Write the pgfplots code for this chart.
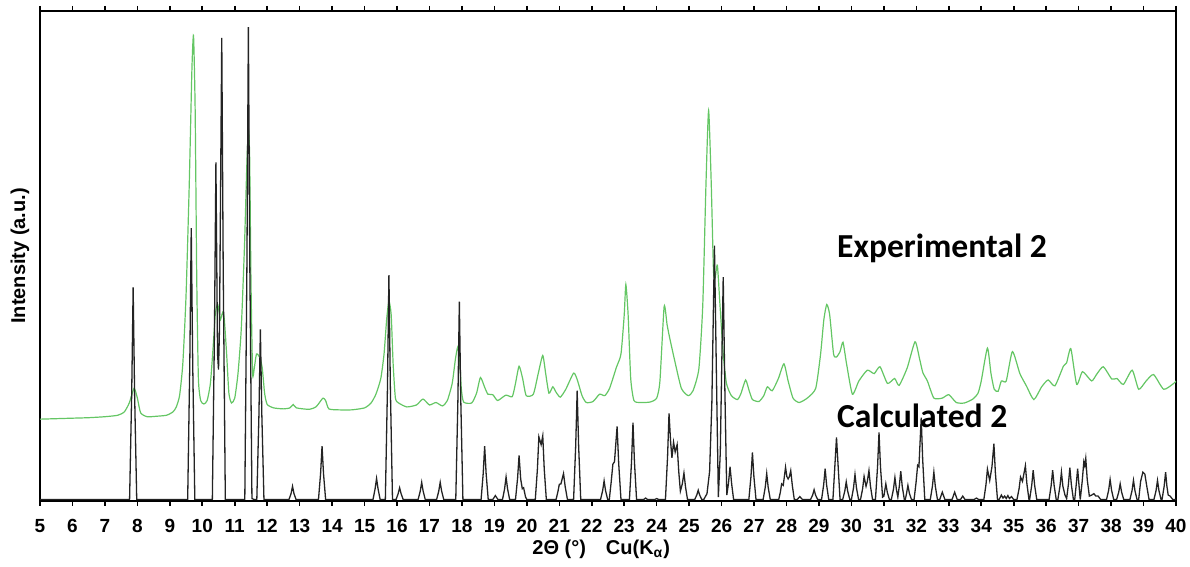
\documentclass[border=0pt]{standalone}
\usepackage{pgfplots}
\pgfplotsset{compat=1.18}
\usepackage{fontspec}
\setmainfont{Liberation Sans}
\newfontfamily\calibri{Carlito}
\definecolor{expgreen}{RGB}{100,198,100}
\definecolor{calcblack}{RGB}{35,35,35}
\begin{document}
\begin{tikzpicture}
\path[use as bounding box] (0,0) rectangle (595pt,283.5pt);
\begin{axis}[
  at={(20pt,33pt)}, anchor=south west,
  scale only axis, width=568pt, height=245pt,
  xmin=5, xmax=40, ymin=0, ymax=1000,
  xtick={5,6,...,40}, ytick=\empty,
  tick align=outside, major tick length=2.5pt,
  axis line style={line width=1pt},
  every tick/.style={black,line width=0.8pt},
  /pgf/number format/assume math mode=true,
  xticklabel style={font=\bfseries\fontsize{9.5}{11}\selectfont, yshift=-3.0pt},
  xlabel={\bfseries 2Θ (°)\quad Cu(K\textsubscript{α})},
  xlabel style={font=\fontsize{10}{12}\selectfont, at={(axis description cs:0.494,0)}, anchor=center, yshift=-24pt},
  ylabel={\bfseries Intensity (a.u.)},
  ylabel style={font=\fontsize{10}{12}\selectfont, at={(axis description cs:-0.0176,0.5)}, anchor=center},
  clip=true,
]
% Experimental 2
\addplot[expgreen, line width=0.6pt, smooth, tension=0.35] coordinates {
(5.0,167)(5.5,168)(6.0,169)(6.5,170)(7.0,172)(7.4,175)(7.6,182)(7.75,200)(7.9,230)(8.0,210)(8.1,180)(8.3,172)(8.6,173)(8.9,175)(9.1,182)(9.2,192)(9.3,215)(9.4,280)(9.5,420)(9.6,650)(9.68,880)(9.73,950)(9.78,800)(9.83,450)(9.88,250)(9.95,205)(10.05,198)(10.15,205)(10.25,240)(10.33,310)(10.4,380)(10.47,402)(10.52,385)(10.56,370)(10.63,385)(10.68,370)(10.75,300)(10.82,220)(10.9,200)(11.0,210)(11.1,260)(11.2,350)(11.3,520)(11.37,680)(11.42,760)(11.46,700)(11.5,450)(11.55,260)(11.6,270)(11.67,300)(11.78,292)(11.85,270)(11.92,220)(12.0,197)(12.2,190)(12.5,188)(12.7,190)(12.8,197)(12.9,190)(13.3,187)(13.5,192)(13.6,200)(13.72,210)(13.8,205)(13.9,188)(14.2,186)(14.6,186)(15.0,190)(15.2,200)(15.35,218)(15.5,250)(15.6,300)(15.68,370)(15.75,408)(15.82,380)(15.88,280)(15.95,210)(16.05,200)(16.3,192)(16.6,196)(16.8,208)(17.0,196)(17.2,201)(17.4,194)(17.55,205)(17.7,240)(17.8,290)(17.87,314)(17.93,290)(17.98,230)(18.05,202)(18.3,200)(18.45,220)(18.57,252)(18.7,232)(18.8,218)(18.95,217)(19.1,205)(19.35,216)(19.55,213)(19.65,240)(19.76,275)(19.87,250)(19.98,215)(20.2,218)(20.35,260)(20.49,297)(20.58,260)(20.68,220)(20.8,233)(20.9,222)(21.03,212)(21.2,228)(21.44,261)(21.55,248)(21.7,215)(21.83,201)(22.04,203)(22.24,218)(22.4,215)(22.55,230)(22.76,273)(22.9,300)(23.0,380)(23.05,442)(23.12,380)(23.2,250)(23.3,205)(23.5,201)(23.8,202)(24.0,210)(24.1,245)(24.23,397)(24.32,360)(24.4,333)(24.56,285)(24.76,230)(24.97,215)(25.12,225)(25.3,270)(25.42,400)(25.52,650)(25.6,797)(25.68,650)(25.75,470)(25.8,455)(25.87,481)(25.95,400)(26.05,300)(26.15,240)(26.3,215)(26.49,207)(26.6,220)(26.74,247)(26.85,225)(26.95,207)(27.15,203)(27.3,215)(27.41,233)(27.56,225)(27.75,250)(27.92,280)(28.05,245)(28.2,210)(28.39,201)(28.64,210)(28.9,230)(29.05,300)(29.15,370)(29.24,401)(29.33,380)(29.45,300)(29.54,294)(29.65,305)(29.74,324)(29.85,280)(30.03,218)(30.23,245)(30.49,267)(30.7,260)(30.88,274)(31.11,240)(31.33,250)(31.47,236)(31.72,272)(31.96,325)(32.1,290)(32.2,262)(32.34,245)(32.54,210)(32.8,210)(33.0,217)(33.23,201)(33.48,200)(33.74,208)(33.9,220)(34.0,245)(34.19,312)(34.3,260)(34.4,228)(34.52,224)(34.62,245)(34.77,245)(34.96,305)(35.19,260)(35.39,235)(35.62,207)(35.86,233)(36.06,247)(36.27,235)(36.53,275)(36.63,282)(36.76,311)(36.94,238)(37.12,264)(37.4,245)(37.56,259)(37.76,274)(38.02,249)(38.18,250)(38.38,238)(38.65,267)(38.85,228)(39.08,245)(39.31,258)(39.62,228)(39.93,240)(40.0,245)
};
% Calculated 2
\addplot[calcblack, line width=0.65pt] coordinates {
(5,3)(7.76,3)(7.825,218)(7.87,436)(7.915,218)(7.98,3)
(9.55,3)(9.615,280)(9.66,557)(9.705,280)(9.77,3)
(10.31,3)(10.375,345)(10.42,691)(10.47,300)(10.5,268)(10.53,350)(10.60,945)(10.645,470)(10.71,3)
(11.31,3)(11.375,480)(11.42,967)(11.465,480)(11.53,5)(11.6,3)
(11.68,3)(11.745,175)(11.79,350)(11.835,175)(11.9,3)
(12.67,3)(12.735,15)(12.78,30)(12.825,15)(12.89,3)
(13.58,3)(13.645,56)(13.69,112)(13.735,56)(13.8,3)
(15.26,3)(15.325,25)(15.37,46)(15.415,25)(15.48,3)
(15.64,3)(15.705,230)(15.75,461)(15.795,230)(15.86,3)
(15.97,3)(16.035,15)(16.08,27)(16.125,15)(16.19,3)
(16.65,3)(16.715,20)(16.76,38)(16.805,20)(16.87,3)
(17.22,3)(17.285,20)(17.33,38)(17.375,20)(17.44,3)
(17.81,3)(17.875,204)(17.92,407)(17.965,204)(18.03,3)
(18.59,3)(18.655,56)(18.70,112)(18.745,56)(18.81,3)
(18.95,3)(19.03,11)(19.11,3)
(19.25,3)(19.315,25)(19.36,49)(19.405,25)(19.47,3)
(19.65,3)(19.715,47)(19.76,93)(19.81,45)(19.86,25)(19.9,27)(19.96,8)(20.0,3)
(20.26,3)(20.325,65)(20.37,131)(20.44,115)(20.49,133)(20.535,66)(20.6,3)
(20.9,3)(20.96,20)(21.0,34)(21.05,35)(21.13,56)(21.18,30)(21.25,3)
(21.44,3)(21.505,113)(21.55,225)(21.595,113)(21.66,3)
(22.27,3)(22.335,21)(22.38,41)(22.425,21)(22.49,3)
(22.54,3)(22.6,40)(22.65,75)(22.7,80)(22.78,152)(22.83,76)(22.9,3)
(23.16,3)(23.225,80)(23.27,160)(23.315,80)(23.38,3)
(23.6,3)(23.66,6)(23.72,3)(23.94,3)(24.0,5)(24.06,3)
(24.27,3)(24.335,90)(24.38,179)(24.43,120)(24.47,88)(24.52,120)(24.57,100)(24.63,115)(24.68,60)(24.73,20)(24.79,35)(24.84,57)(24.89,28)(24.95,3)
(25.17,3)(25.235,12)(25.28,22)(25.325,12)(25.39,3)
(25.45,3)(25.55,15)(25.63,60)(25.7,200)(25.78,521)(25.84,260)(25.9,8)(25.96,100)(26.05,457)(26.1,230)(26.16,12)(26.21,35)(26.26,70)(26.31,35)(26.37,3)
(26.84,3)(26.905,50)(26.95,99)(26.995,50)(27.06,3)
(27.28,3)(27.345,28)(27.39,56)(27.435,28)(27.5,3)
(27.76,3)(27.81,18)(27.85,35)(27.9,32)(27.97,69)(28.01,50)(28.05,45)(28.09,50)(28.13,62)(28.18,31)(28.24,3)
(28.33,3)(28.41,9)(28.49,3)
(28.74,3)(28.805,12)(28.85,23)(28.895,12)(28.96,3)
(29.08,3)(29.145,33)(29.19,66)(29.235,33)(29.3,3)
(29.43,3)(29.48,60)(29.54,130)(29.6,60)(29.65,3)
(29.73,3)(29.795,20)(29.84,39)(29.885,20)(29.95,3)
(30.0,3)(30.065,27)(30.11,54)(30.155,27)(30.22,3)
(30.28,3)(30.345,25)(30.39,50)(30.45,30)(30.49,40)(30.54,62)(30.585,31)(30.65,3)
(30.74,3)(30.805,70)(30.85,140)(30.895,70)(30.96,8)(31.0,10)(31.06,35)(31.105,18)(31.17,3)
(31.23,3)(31.295,24)(31.34,48)(31.385,24)(31.43,8)(31.475,30)(31.52,61)(31.565,30)(31.63,3)
(31.66,3)(31.7,16)(31.74,32)(31.785,16)(31.85,3)
(31.93,3)(31.99,37)(32.04,73)(32.08,70)(32.15,170)(32.195,85)(32.26,3)
(32.43,3)(32.495,30)(32.54,59)(32.585,30)(32.65,3)
(32.72,3)(32.8,18)(32.88,3)
(33.1,3)(33.18,18)(33.26,3)
(33.36,3)(33.43,10)(33.5,3)
(33.78,3)(33.85,6)(33.92,3)
(34.08,3)(34.145,33)(34.19,65)(34.26,42)(34.33,70)(34.39,117)(34.435,58)(34.5,3)
(34.55,3)(34.62,12)(34.67,6)(34.72,10)(34.77,5)(34.82,11)(34.87,5)(34.93,9)(35.0,3)
(35.1,3)(35.165,25)(35.21,49)(35.27,40)(35.36,72)(35.405,36)(35.47,3)
(35.49,3)(35.555,32)(35.6,63)(35.645,32)(35.71,3)
(36.09,3)(36.155,32)(36.2,63)(36.245,32)(36.31,3)
(36.36,3)(36.425,30)(36.47,59)(36.515,30)(36.58,12)(36.63,5)(36.685,34)(36.73,68)(36.775,34)(36.84,3)
(36.88,3)(36.925,33)(36.97,66)(37.01,33)(37.05,3)
(37.11,40)(37.16,80)(37.19,72)(37.22,87)(37.265,44)(37.33,10)(37.4,12)(37.47,15)(37.53,10)(37.6,10)(37.68,3)
(37.86,3)(37.925,22)(37.97,44)(38.015,22)(38.08,3)
(38.17,3)(38.235,18)(38.28,35)(38.325,18)(38.39,3)
(38.58,3)(38.645,21)(38.69,42)(38.735,21)(38.8,3)
(38.85,3)(38.91,40)(38.98,59)(39.04,55)(39.1,30)(39.17,3)
(39.32,3)(39.385,21)(39.43,42)(39.475,21)(39.54,3)
(39.57,3)(39.635,30)(39.68,59)(39.72,30)(39.76,12)(39.82,10)(39.9,3)(40,3)
};
\node[anchor=west, font=\calibri\bfseries\fontsize{16.8}{20}\selectfont, inner sep=0pt] at (axis cs:29.55,516) {Experimental 2};
\node[anchor=west, font=\calibri\bfseries\fontsize{16.8}{20}\selectfont, inner sep=0pt] at (axis cs:29.55,174) {Calculated 2};
\end{axis}
\end{tikzpicture}
\end{document}
